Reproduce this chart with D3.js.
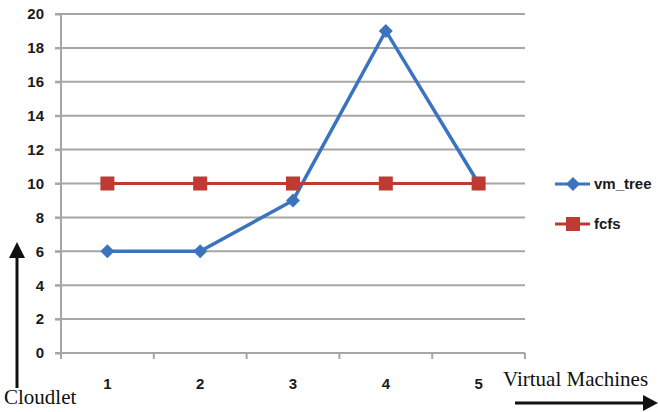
<!DOCTYPE html>
<html>
<head>
<meta charset="utf-8">
<script src="https://cdn.jsdelivr.net/npm/d3@7"></script>
<style>
  html, body { margin: 0; padding: 0; background: #fff; }
  svg { display: block; }
</style>
</head>
<body>
<svg id="chart" width="658" height="412"></svg>
<script>
// Cloudlets per virtual machine for two scheduling policies
const machines = ["1", "2", "3", "4", "5"];
const vmTree = [6, 6, 9, 19, 10];
const fcfs = [10, 10, 10, 10, 10];
const yTicks = [0, 2, 4, 6, 8, 10, 12, 14, 16, 18, 20];
const seriesNames = ["vm_tree", "fcfs"];
const seriesColors = ["#3c73bf", "#be3a33"];

const svg = d3.select("#chart");
const plot = { left: 61, right: 525, top: 14, bottom: 353 };

const x = d3.scaleBand().domain(machines).range([plot.left, plot.right]);
const y = d3.scaleLinear().domain([0, 20]).range([plot.bottom, plot.top]);

const labelFont = "'Liberation Sans', Arial, sans-serif";
const serifFont = "'Liberation Serif', 'Times New Roman', serif";

// horizontal gridlines
svg.append("g").selectAll("line").data(yTicks.filter(d => d > 0)).join("line")
  .attr("x1", plot.left - 6).attr("x2", plot.right)
  .attr("y1", d => y(d)).attr("y2", d => y(d))
  .attr("stroke", "#a6a6a6").attr("stroke-width", 2);

// y axis
const yAxis = d3.axisLeft(y).tickValues(yTicks).tickSize(6).tickPadding(5);
const gy = svg.append("g").attr("transform", `translate(${plot.left},0)`).call(yAxis);
gy.select(".domain").attr("stroke", "#a6a6a6").attr("stroke-width", 2).attr("d", `M0,${plot.top}V${plot.bottom}`);
gy.selectAll(".tick line").attr("stroke", "#a6a6a6").attr("stroke-width", 2);
gy.selectAll(".tick text").attr("font-family", labelFont).attr("font-weight", "bold")
  .attr("font-size", 15).attr("fill", "#1a1a1a").attr("x", -17);

// x axis with tick marks between categories
const gx = svg.append("g").attr("transform", `translate(0,${plot.bottom})`);
gx.append("line").attr("x1", plot.left - 6).attr("x2", plot.right)
  .attr("stroke", "#a6a6a6").attr("stroke-width", 2);
const boundaries = machines.map(m => x(m)).concat([x(machines[machines.length - 1]) + x.bandwidth()]);
gx.selectAll("line.tk").data(boundaries).join("line").attr("class", "tk")
  .attr("x1", d => d).attr("x2", d => d).attr("y1", 0).attr("y2", 6)
  .attr("stroke", "#a6a6a6").attr("stroke-width", 2);
gx.selectAll("text").data(machines).join("text")
  .attr("x", d => x(d) + x.bandwidth() / 2).attr("y", 36)
  .attr("text-anchor", "middle").attr("font-family", labelFont).attr("font-weight", "bold")
  .attr("font-size", 15).attr("fill", "#1a1a1a").text(d => d);

const cx = d => x(d) + x.bandwidth() / 2;
const line = d3.line().x((d, i) => cx(machines[i])).y(d => y(d));

const diamondPath = "M0,-7L7,0L0,7L-7,0Z";

function drawSeries(values, color, markerKind, width) {
  const g = svg.append("g");
  g.append("path").datum(values).attr("d", line)
    .attr("fill", "none").attr("stroke", color).attr("stroke-width", width);
  if (markerKind === "diamond") {
    g.selectAll("path.m").data(values).join("path").attr("class", "m")
      .attr("d", diamondPath)
      .attr("transform", (d, i) => `translate(${cx(machines[i])},${y(d)})`)
      .attr("fill", color);
  } else {
    g.selectAll("rect").data(values).join("rect")
      .attr("x", (d, i) => cx(machines[i]) - 7).attr("y", d => y(d) - 7)
      .attr("width", 14).attr("height", 14).attr("fill", color);
  }
}
drawSeries(vmTree, seriesColors[0], "diamond", 3.5);
drawSeries(fcfs, seriesColors[1], "square", 3);

// legend
const legend = svg.append("g");
seriesNames.forEach((name, i) => {
  const ly = 184 + i * 40;
  legend.append("line").attr("x1", 555).attr("x2", 590).attr("y1", ly).attr("y2", ly)
    .attr("stroke", seriesColors[i]).attr("stroke-width", 3);
  if (i === 0) {
    legend.append("path").attr("d", diamondPath)
      .attr("transform", `translate(573,${ly})`).attr("fill", seriesColors[i]);
  } else {
    legend.append("rect").attr("x", 566).attr("y", ly - 7).attr("width", 14).attr("height", 14)
      .attr("fill", seriesColors[i]);
  }
  legend.append("text").attr("x", 594).attr("y", ly + 5)
    .attr("font-family", labelFont).attr("font-weight", "bold").attr("font-size", 15)
    .attr("fill", "#1a1a1a").text(name);
});

// axis captions with arrows
svg.append("line").attr("x1", 17).attr("y1", 388).attr("x2", 17).attr("y2", 255)
  .attr("stroke", "#111").attr("stroke-width", 3);
svg.append("path").attr("d", "M17,242L25,258L9,258Z").attr("fill", "#111");
svg.append("text").attr("x", 4).attr("y", 404).attr("font-family", serifFont)
  .attr("font-size", 21).attr("fill", "#111").text("Cloudlet");

svg.append("line").attr("x1", 515).attr("y1", 403).attr("x2", 645).attr("y2", 403)
  .attr("stroke", "#111").attr("stroke-width", 3);
svg.append("path").attr("d", "M658,403L643,395L643,411Z").attr("fill", "#111");
svg.append("text").attr("x", 503).attr("y", 386).attr("font-family", serifFont)
  .attr("font-size", 21).attr("fill", "#111").text("Virtual Machines");
</script>
</body>
</html>
